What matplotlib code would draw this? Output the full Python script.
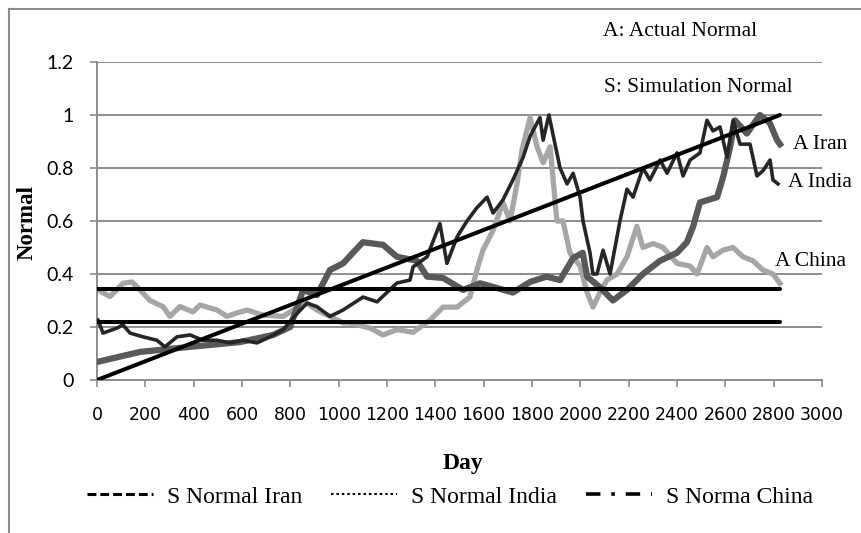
import matplotlib
matplotlib.use("Agg")
import matplotlib.pyplot as plt
from matplotlib.lines import Line2D

# ---- data ----
iran_days = [0, 178, 385, 591, 729, 799, 853, 910, 964, 1018, 1100, 1184, 1241, 1324, 1366,
             1432, 1515, 1585, 1721, 1792, 1860, 1916, 1970, 2010, 2028, 2081, 2135, 2193,
             2259, 2330, 2400, 2441, 2467, 2495, 2566, 2592, 2620, 2640, 2689, 2743, 2784,
             2814, 2826]
iran_vals = [0.068, 0.106, 0.125, 0.143, 0.17, 0.2, 0.34, 0.32, 0.415, 0.44, 0.52, 0.51, 0.465,
             0.45, 0.39, 0.385, 0.34, 0.365, 0.33, 0.37, 0.39, 0.377, 0.46, 0.48, 0.39, 0.35,
             0.30, 0.34, 0.40, 0.45, 0.48, 0.52, 0.58, 0.67, 0.69, 0.77, 0.88, 0.98, 0.93, 1.0,
             0.97, 0.905, 0.89]

india_days = [4, 25, 83, 107, 137, 190, 248, 281, 331, 385, 438, 496, 550, 604, 662, 716, 770,
              827, 869, 910, 964, 1018, 1101, 1159, 1241, 1295, 1308, 1366, 1419, 1448, 1490,
              1531, 1572, 1614, 1639, 1680, 1721, 1763, 1792, 1833, 1846, 1870, 1916, 1945,
              1970, 1999, 2011, 2040, 2052, 2069, 2094, 2123, 2164, 2193, 2218, 2259, 2288,
              2330, 2359, 2400, 2425, 2454, 2495, 2524, 2549, 2578, 2607, 2632, 2661, 2702,
              2731, 2756, 2785, 2797, 2818]
india_vals = [0.226, 0.177, 0.196, 0.208, 0.177, 0.163, 0.15, 0.125, 0.163, 0.17, 0.15, 0.15,
              0.14, 0.15, 0.14, 0.163, 0.19, 0.25, 0.29, 0.277, 0.24, 0.264, 0.313, 0.295,
              0.366, 0.377, 0.427, 0.465, 0.59, 0.44, 0.54, 0.60, 0.65, 0.69, 0.63, 0.68, 0.755,
              0.84, 0.92, 0.99, 0.905, 1.0, 0.80, 0.74, 0.78, 0.69, 0.60, 0.48, 0.40, 0.40,
              0.49, 0.40, 0.60, 0.72, 0.69, 0.80, 0.755, 0.83, 0.78, 0.857, 0.77, 0.83, 0.857,
              0.98, 0.94, 0.955, 0.84, 0.98, 0.89, 0.89, 0.77, 0.79, 0.83, 0.755, 0.74]

china_days = [4, 54, 108, 145, 178, 219, 273, 302, 343, 397, 426, 497, 538, 579, 621, 687, 770,
              811, 869, 910, 964, 1018, 1047, 1130, 1183, 1241, 1308, 1378, 1432, 1490, 1543,
              1572, 1597, 1639, 1680, 1709, 1738, 1759, 1792, 1821, 1846, 1875, 1903, 1928,
              1957, 1999, 2028, 2052, 2081, 2110, 2152, 2193, 2234, 2259, 2301, 2342, 2400,
              2454, 2483, 2524, 2549, 2590, 2632, 2673, 2714, 2756, 2797, 2826]
china_vals = [0.34, 0.315, 0.365, 0.37, 0.34, 0.30, 0.277, 0.24, 0.277, 0.257, 0.283, 0.264,
              0.24, 0.253, 0.264, 0.245, 0.24, 0.264, 0.29, 0.264, 0.24, 0.215, 0.215, 0.196,
              0.17, 0.19, 0.18, 0.226, 0.275, 0.275, 0.313, 0.415, 0.49, 0.565, 0.67, 0.60,
              0.74, 0.87, 0.99, 0.88, 0.82, 0.88, 0.60, 0.60, 0.48, 0.43, 0.33, 0.275, 0.33,
              0.377, 0.40, 0.465, 0.58, 0.50, 0.515, 0.50, 0.44, 0.43, 0.40, 0.50, 0.465, 0.49,
              0.50, 0.465, 0.45, 0.415, 0.40, 0.365]

sim_days = [0, 2826]
sim_iran = [0.0, 1.0]
sim_india = [0.22, 0.22]
sim_china = [0.345, 0.345]

x_ticks = list(range(0, 3001, 200))
y_ticks = [0, 0.2, 0.4, 0.6, 0.8, 1.0, 1.2]
y_tick_labels = ["0", "0.2", "0.4", "0.6", "0.8", "1", "1.2"]
legend_labels = ["S Normal Iran", "S Normal India", "S Norma China"]

# ---- figure ----
W, H = 861, 533
fig = plt.figure(figsize=(W / 100, H / 100), dpi=100)
ax = fig.add_axes([97 / W, 1 - 380 / H, (822 - 97) / W, (380 - 62) / H])

grid_c = "#8c8c8c"
serif = ["Liberation Serif", "DejaVu Serif"]

for v in y_ticks[1:]:
    ax.axhline(v, color=grid_c, lw=1.4, zorder=0)

ax.plot(china_days, china_vals, color="#a6a6a6", lw=3.8, solid_joinstyle="round", zorder=2)
ax.plot(iran_days, iran_vals, color="#595959", lw=4.5, solid_joinstyle="round", zorder=3)
ax.plot(india_days, india_vals, color="#262626", lw=2.6, solid_joinstyle="round", zorder=4)

ax.plot(sim_days, sim_iran, color="black", lw=2.9, solid_capstyle="round", zorder=5)
ax.plot(sim_days, sim_india, color="black", lw=2.9, solid_capstyle="round", zorder=5)
ax.plot(sim_days, sim_china, color="black", lw=2.9, solid_capstyle="round", zorder=5)

ax.set_xlim(0, 3000)
ax.set_ylim(0, 1.2)
ax.set_xticks(x_ticks)
ax.set_xticklabels([str(t) for t in x_ticks],
                   family=["Liberation Sans Narrow", "DejaVu Sans Condensed", "DejaVu Sans"],
                   fontsize=12.5)
ax.set_yticks(y_ticks)
ax.set_yticklabels(y_tick_labels, family=["Lato", "DejaVu Sans"], fontsize=14)

for s in ["top", "right"]:
    ax.spines[s].set_visible(False)
for s in ["left", "bottom"]:
    ax.spines[s].set_color(grid_c)
    ax.spines[s].set_linewidth(1.4)
ax.tick_params(axis="x", direction="out", length=5, width=1.2, color=grid_c, pad=14)
ax.tick_params(axis="y", direction="out", length=5, width=1.2, color=grid_c, pad=12)

fig.text(463 / W, 1 - 463 / H, "Day", family=serif, fontweight="bold", fontsize=17,
         ha="center", va="center")
fig.text(27 / W, 1 - 222 / H, "Normal", family=serif, fontweight="bold", fontsize=16.5,
         rotation=90, ha="center", va="center")

fig.text(680 / W, 1 - 32 / H, "A: Actual Normal", family=serif, fontsize=15.5, ha="center", va="center")
fig.text(698 / W, 1 - 88 / H, "S: Simulation Normal", family=serif, fontsize=15.5, ha="center", va="center")
fig.text(793 / W, 1 - 144 / H, "A Iran", family=serif, fontsize=15.5, ha="left", va="center")
fig.text(788 / W, 1 - 182 / H, "A India", family=serif, fontsize=15.5, ha="left", va="center")
fig.text(775 / W, 1 - 262 / H, "A China", family=serif, fontsize=15.5, ha="left", va="center")

handles = [
    Line2D([], [], color="black", lw=2.2, linestyle=(0, (2.9, 1.3))),
    Line2D([], [], color="black", lw=1.5, linestyle=(0, (1.2, 1.4))),
    Line2D([], [], color="black", lw=2.6, linestyle=(0, (4.0, 3.0, 1.0, 3.0))),
]
fig.legend(handles, legend_labels, loc="center", bbox_to_anchor=(450 / W, 1 - 497 / H),
           ncol=3, frameon=False, prop={"family": serif, "size": 17},
           handlelength=2.8, handletextpad=0.6, columnspacing=1.2)

# outer chart border (left and top)
fig.add_artist(Line2D([9 / W, 9 / W], [0, 1 - 9 / H], color="#8c8c8c", lw=1.5))
fig.add_artist(Line2D([9 / W, 1], [1 - 9 / H, 1 - 9 / H], color="#8c8c8c", lw=1.5))

fig.savefig("out.png", dpi=100)
